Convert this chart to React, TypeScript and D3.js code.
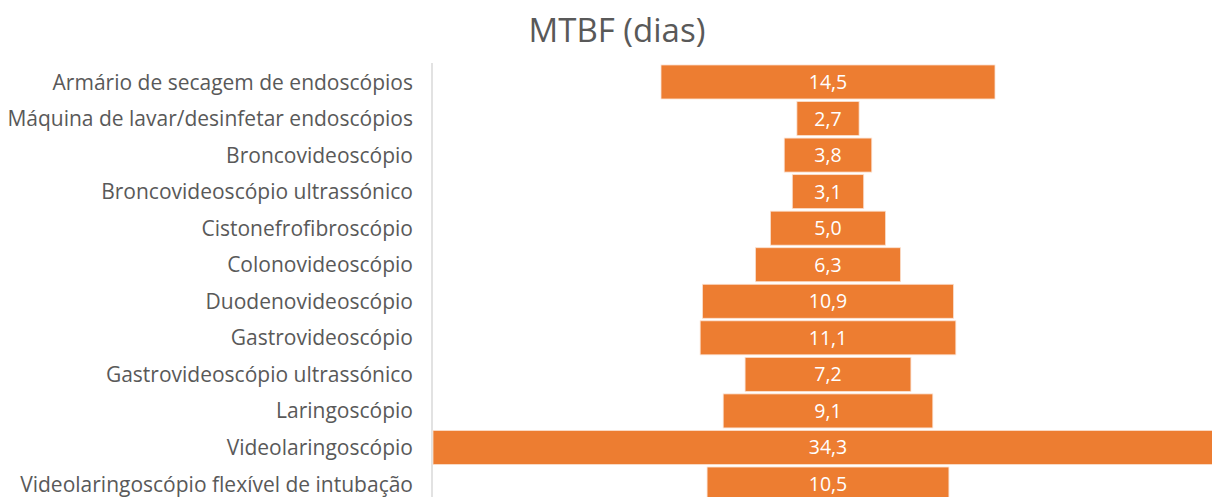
import React, { useRef, useEffect } from "react";
import * as d3 from "d3";

const categories = [
  "Armário de secagem de endoscópios",
  "Máquina de lavar/desinfetar endoscópios",
  "Broncovideoscópio",
  "Broncovideoscópio ultrassónico",
  "Cistonefrofibroscópio",
  "Colonovideoscópio",
  "Duodenovideoscópio",
  "Gastrovideoscópio",
  "Gastrovideoscópio ultrassónico",
  "Laringoscópio",
  "Videolaringoscópio",
  "Videolaringoscópio flexível de intubação",
];
const mtbf = [14.5, 2.7, 3.8, 3.1, 5.0, 6.3, 10.9, 11.1, 7.2, 9.1, 34.3, 10.5];

const FONT = "'Open Sans', 'Noto Sans', sans-serif";

export default function App() {
  const ref = useRef<SVGSVGElement>(null);

  useEffect(() => {
    const svg = d3.select(ref.current);
    svg.selectAll("*").remove();
    const width = 1212;
    const height = 497;

    const center = 828;
    const axisX = 432;
    const w = d3.scaleLinear().domain([0, 34.3]).range([0, 790]);
    const y = d3
      .scaleBand<string>()
      .domain(categories)
      .range([63.7, 502.3])
      .paddingInner(0.07)
      .paddingOuter(0.035);

    svg.attr("width", width).attr("height", height);

    svg
      .append("rect")
      .attr("width", width)
      .attr("height", height)
      .attr("fill", "#ffffff");

    svg
      .append("text")
      .attr("x", 617)
      .attr("y", 42)
      .attr("text-anchor", "middle")
      .attr("font-family", FONT)
      .attr("font-size", 33)
      .attr("fill", "#595959")
      .text("MTBF (dias)");

    svg
      .append("line")
      .attr("x1", axisX)
      .attr("x2", axisX)
      .attr("y1", 63)
      .attr("y2", height)
      .attr("stroke", "#d9d9d9")
      .attr("stroke-width", 1.5);

    const rows = categories.map((c, i) => ({ c, v: mtbf[i] }));

    svg
      .append("g")
      .selectAll("rect")
      .data(rows)
      .enter()
      .append("rect")
      .attr("x", (d) => center - w(d.v) / 2)
      .attr("y", (d) => y(d.c)!)
      .attr("width", (d) => w(d.v))
      .attr("height", y.bandwidth())
      .attr("fill", "#ed7d31")
      .attr("stroke", "#fbe0cf")
      .attr("stroke-width", 0.8);

    svg
      .append("g")
      .selectAll("text")
      .data(rows)
      .enter()
      .append("text")
      .attr("x", center)
      .attr("y", (d) => y(d.c)! + y.bandwidth() / 2)
      .attr("dy", "0.36em")
      .attr("text-anchor", "middle")
      .attr("font-family", FONT)
      .attr("font-size", 19.5)
      .attr("fill", "#ffffff")
      .text((d) => d.v.toFixed(1).replace(".", ","));

    svg
      .append("g")
      .selectAll("text")
      .data(categories)
      .enter()
      .append("text")
      .attr("x", 413)
      .attr("y", (d) => y(d)! + y.bandwidth() / 2)
      .attr("dy", "0.36em")
      .attr("text-anchor", "end")
      .attr("font-family", FONT)
      .attr("font-size", 21)
      .attr("fill", "#595959")
      .text((d) => d);
  }, []);

  return (
    <div style={{ position: "fixed", left: 0, top: 0 }}>
      <svg ref={ref} style={{ display: "block" }}></svg>
    </div>
  );
}
